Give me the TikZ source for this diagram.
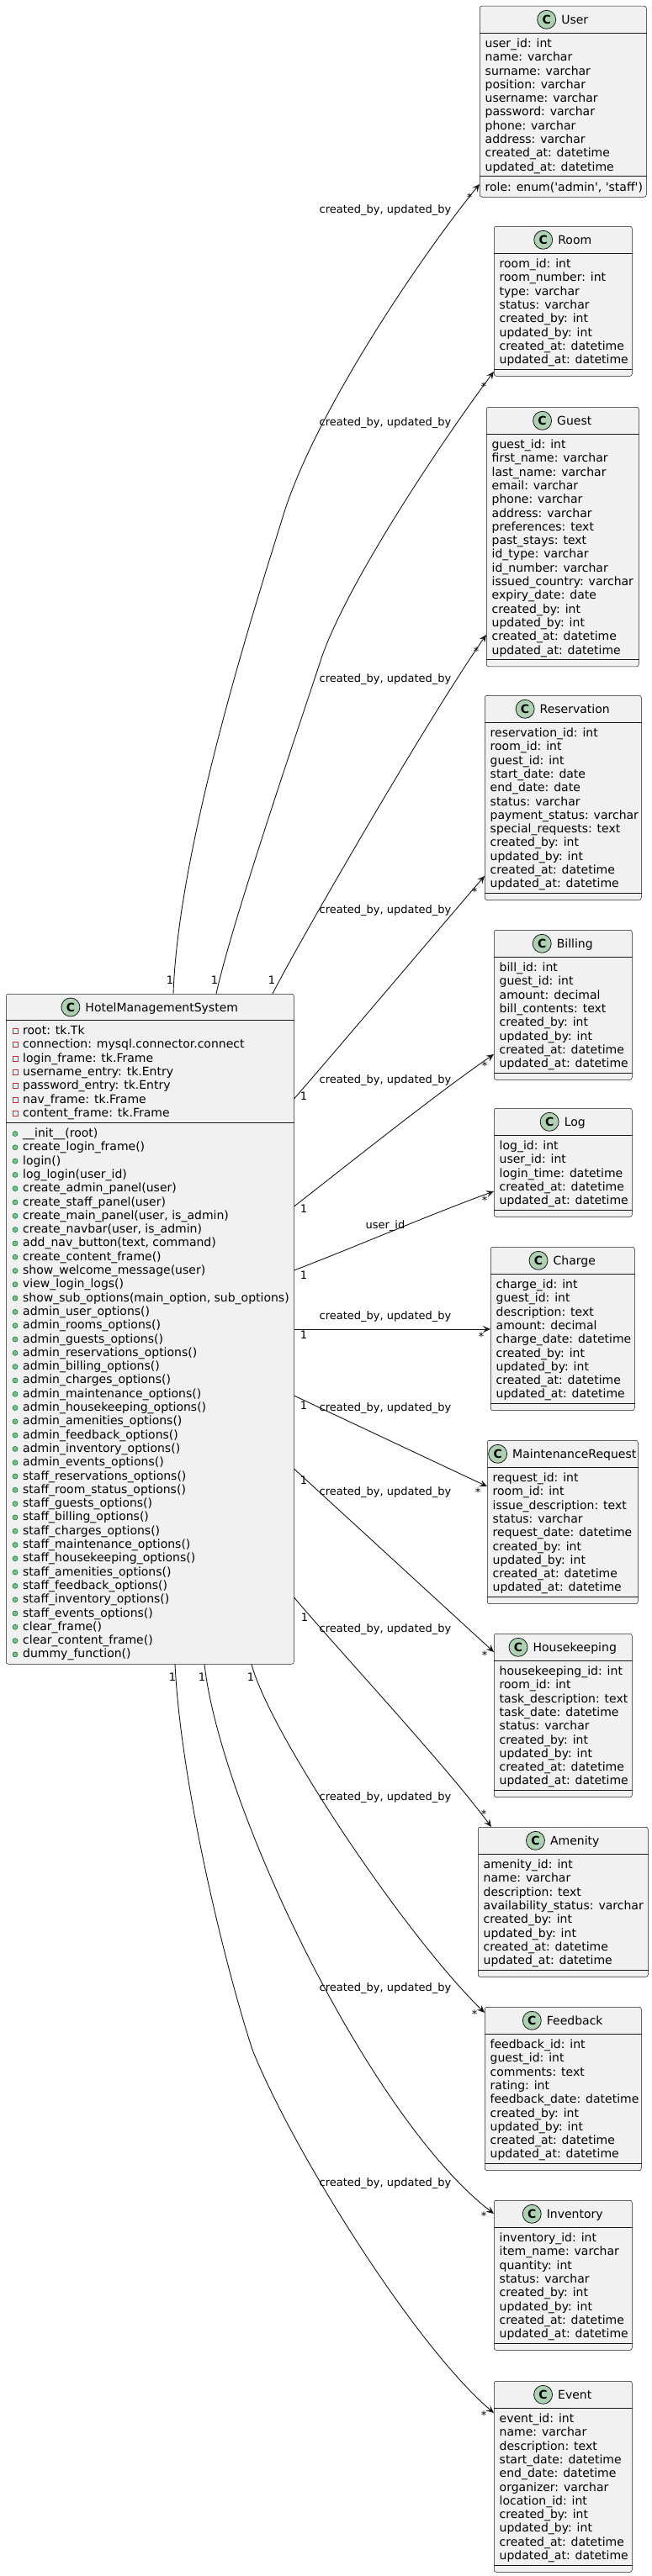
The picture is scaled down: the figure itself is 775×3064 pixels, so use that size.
\documentclass[tikz,border=0pt]{standalone}
\usepackage{fontspec}
\setmainfont{DejaVu Sans}
\usetikzlibrary{positioning,arrows.meta}
\definecolor{boxfill}{HTML}{F1F1F1}
\definecolor{boxline}{HTML}{181818}
\definecolor{badge}{HTML}{ADD1B2}
\definecolor{privred}{HTML}{C82930}
\definecolor{pubgreen}{HTML}{038048}
\definecolor{pubfill}{HTML}{84BE84}
% #1 name, #2 left, #3 top, #4 width, #5 title, #6 rows, #7 extra height, #8 rows
\newcommand{\entity}[8]{%
  \pgfmathsetmacro\attrh{#6*16.3+7.7}
  \pgfmathsetmacro\sepy{32+\attrh}
  \pgfmathsetmacro\boxh{40+\attrh+#7}
  \node[classbox, minimum width=#4pt, minimum height=\boxh pt, anchor=north west] (#1) at (#2,#3) {};
  \node[titletext] (#1-t) at ([xshift=14pt,yshift=-21.3pt]#1.north) {#5};
  \node[cbadge, left=6pt of #1-t] (#1-c) {C};
  \draw[sepline] ([yshift=-32pt]#1.north west) -- ([yshift=-32pt]#1.north east);
  \draw[sepline] ([yshift=-\sepy pt]#1.north west) -- ([yshift=-\sepy pt]#1.north east);
  \foreach \txt [count=\i from 0] in {#8}
    \node[rowtext] (#1-r\i) at ([xshift=6.5pt,yshift=-49.5pt-\i*16.3pt]#1.north west) {\txt};
}
\begin{document}
\begin{tikzpicture}[x=1pt,y=-1pt,
  classbox/.style={rectangle, rounded corners=2.5pt, draw=boxline, line width=.5pt, fill=boxfill, inner sep=0},
  titletext/.style={anchor=base, inner sep=0, text height=11pt, text depth=1pt, font=\fontsize{14pt}{16pt}\selectfont},
  cbadge/.style={circle, draw=boxline, line width=.8pt, fill=badge, minimum size=22pt, inner sep=0, font=\fontsize{14pt}{16pt}\selectfont\bfseries},
  sepline/.style={draw=boxline, line width=.5pt},
  rowtext/.style={anchor=base west, inner sep=0, font=\fontsize{14pt}{16pt}\selectfont},
  privicon/.style={rectangle, draw=privred, line width=.8pt, minimum size=6pt, inner sep=0},
  pubicon/.style={circle, draw=pubgreen, line width=.6pt, fill=pubfill, minimum size=6pt, inner sep=0},
  assoc/.style={draw=boxline, line width=.9pt, -{Stealth[length=9pt,width=8pt,inset=3.5pt]}},
  mult/.style={inner sep=0, font=\fontsize{13pt}{15pt}\selectfont},
  elabel/.style={inner sep=0, font=\fontsize{13pt}{15pt}\selectfont}]
  \path[fill=white, use as bounding box] (0,0) rectangle (775,3064);

  \node[classbox, minimum width=342pt, minimum height=797pt, anchor=north west] (hms) at (7,1182) {};
  \node[titletext] (hms-t) at ([xshift=14pt,yshift=-21pt]hms.north) {HotelManagementSystem};
  \node[cbadge, left=6pt of hms-t] (hms-c) {C};
  \draw[sepline] ([yshift=-31pt]hms.north west) -- ([yshift=-31pt]hms.north east);
  \draw[sepline] ([yshift=-153pt]hms.north west) -- ([yshift=-153pt]hms.north east);
  \foreach \txt [count=\i from 0] in {root: tk.Tk, connection: mysql.connector.connect,
      login\_frame: tk.Frame, username\_entry: tk.Entry, password\_entry: tk.Entry,
      nav\_frame: tk.Frame, content\_frame: tk.Frame} {
    \node[privicon] (hms-ai\i) at ([xshift=11pt,yshift=-44.5pt-\i*16.3pt]hms.north west) {};
    \node[rowtext] (hms-a\i) at ([xshift=20pt,yshift=-48.5pt-\i*16.3pt]hms.north west) {\txt};
  }
  \foreach \txt [count=\i from 0] in {\_\_init\_\_(root), create\_login\_frame(), login(),
      log\_login(user\_id), create\_admin\_panel(user), create\_staff\_panel(user),
      {create\_main\_panel(user, is\_admin)}, {create\_navbar(user, is\_admin)},
      {add\_nav\_button(text, command)}, create\_content\_frame(), show\_welcome\_message(user),
      view\_login\_logs(), {show\_sub\_options(main\_option, sub\_options)},
      admin\_user\_options(), admin\_rooms\_options(), admin\_guests\_options(),
      admin\_reservations\_options(), admin\_billing\_options(), admin\_charges\_options(),
      admin\_maintenance\_options(), admin\_housekeeping\_options(), admin\_amenities\_options(),
      admin\_feedback\_options(), admin\_inventory\_options(), admin\_events\_options(),
      staff\_reservations\_options(), staff\_room\_status\_options(), staff\_guests\_options(),
      staff\_billing\_options(), staff\_charges\_options(), staff\_maintenance\_options(),
      staff\_housekeeping\_options(), staff\_amenities\_options(), staff\_feedback\_options(),
      staff\_inventory\_options(), staff\_events\_options(), clear\_frame(),
      clear\_content\_frame(), dummy\_function()} {
    \node[pubicon] (hms-mi\i) at ([xshift=11pt,yshift=-166.5pt-\i*16.3pt]hms.north west) {};
    \node[rowtext] (hms-m\i) at ([xshift=20pt,yshift=-170.5pt-\i*16.3pt]hms.north west) {\txt};
  }

  \entity{user}{570}{7}{198}{User}{10}{16.3}{user\_id: int, name: varchar, surname: varchar,
    position: varchar, username: varchar, password: varchar, phone: varchar, address: varchar,
    created\_at: datetime, updated\_at: datetime}
  \node[rowtext] (user-role) at ([xshift=6.5pt,yshift=-220.3pt]user.north west)
    {role: enum(\textquotesingle admin\textquotesingle, \textquotesingle staff\textquotesingle)};
  \entity{room}{587}{269}{164}{Room}{8}{0}{room\_id: int, room\_number: int, type: varchar,
    status: varchar, created\_by: int, updated\_by: int, created\_at: datetime, updated\_at: datetime}
  \entity{guest}{578}{484}{181}{Guest}{16}{0}{guest\_id: int, first\_name: varchar,
    last\_name: varchar, email: varchar, phone: varchar, address: varchar, preferences: text,
    past\_stays: text, id\_type: varchar, id\_number: varchar, issued\_country: varchar,
    expiry\_date: date, created\_by: int, updated\_by: int, created\_at: datetime, updated\_at: datetime}
  \entity{reservation}{576}{827}{186}{Reservation}{12}{0}{reservation\_id: int, room\_id: int,
    guest\_id: int, start\_date: date, end\_date: date, status: varchar, payment\_status: varchar,
    special\_requests: text, created\_by: int, updated\_by: int, created\_at: datetime, updated\_at: datetime}
  \entity{billing}{587}{1106}{164}{Billing}{8}{0}{bill\_id: int, guest\_id: int, amount: decimal,
    bill\_contents: text, created\_by: int, updated\_by: int, created\_at: datetime, updated\_at: datetime}
  \entity{log}{587}{1318}{164}{Log}{5}{0}{log\_id: int, user\_id: int, login\_time: datetime,
    created\_at: datetime, updated\_at: datetime}
  \entity{charge}{583}{1483}{171}{Charge}{9}{0}{charge\_id: int, guest\_id: int, description: text,
    amount: decimal, charge\_date: datetime, created\_by: int, updated\_by: int, created\_at: datetime,
    updated\_at: datetime}
  \entity{mreq}{579}{1713}{179}{MaintenanceRequest}{9}{0}{request\_id: int, room\_id: int,
    issue\_description: text, status: varchar, request\_date: datetime, created\_by: int,
    updated\_by: int, created\_at: datetime, updated\_at: datetime}
  \entity{hkeep}{587}{1943}{164}{Housekeeping}{9}{0}{housekeeping\_id: int, room\_id: int,
    task\_description: text, task\_date: datetime, status: varchar, created\_by: int, updated\_by: int,
    created\_at: datetime, updated\_at: datetime}
  \entity{amenity}{568}{2173}{202}{Amenity}{8}{0}{amenity\_id: int, name: varchar, description: text,
    availability\_status: varchar, created\_by: int, updated\_by: int, created\_at: datetime,
    updated\_at: datetime}
  \entity{feedback}{576}{2387}{186}{Feedback}{9}{0}{feedback\_id: int, guest\_id: int, comments: text,
    rating: int, feedback\_date: datetime, created\_by: int, updated\_by: int, created\_at: datetime,
    updated\_at: datetime}
  \entity{inventory}{587}{2617}{164}{Inventory}{8}{0}{inventory\_id: int, item\_name: varchar,
    quantity: int, status: varchar, created\_by: int, updated\_by: int, created\_at: datetime,
    updated\_at: datetime}
  \entity{event}{587}{2832}{164}{Event}{11}{0}{event\_id: int, name: varchar, description: text,
    start\_date: datetime, end\_date: datetime, organizer: varchar, location\_id: int, created\_by: int,
    updated\_by: int, created\_at: datetime, updated\_at: datetime}

  \draw[assoc] (206,0 |- hms.north) .. controls (212,1000) and (310,700) .. (337,612)
    .. controls (375,490) and (500,305) .. (user.west |- 0,219);
  \draw[assoc] (257,0 |- hms.north) .. controls (275,1100) and (350,880) .. (383,780)
    .. controls (415,690) and (525,525) .. (room.west |- 0,442);
  \draw[assoc] (324,0 |- hms.north) .. controls (350,1130) and (505,860) .. (guest.west |- 0,755);
  \draw[assoc] (hms.east |- 0,1307) .. controls (395,1255) and (530,1095) .. (reservation.west |- 0,1042);
  \draw[assoc] (hms.east |- 0,1435) .. controls (420,1380) and (520,1300) .. (billing.west |- 0,1254);
  \draw[assoc] (hms.east |- 0,1511) .. controls (430,1480) and (510,1445) .. (log.west |- 0,1417);
  \draw[assoc] (hms.east |- 0,1581) -- (charge.west |- 0,1581);
  \draw[assoc] (hms.east |- 0,1660) -- (mreq.west |- 0,1768);
  \draw[assoc] (hms.east |- 0,1747) -- (hkeep.west |- 0,1965);
  \draw[assoc] (hms.east |- 0,1900) .. controls (400,1960) and (530,2100) .. (584,0 |- amenity.north);
  \draw[assoc] (299,0 |- hms.south) .. controls (320,2060) and (480,2300) .. (feedback.west |- 0,2394);
  \draw[assoc] (243,0 |- hms.south) .. controls (262,2150) and (440,2520) .. (inventory.west |- 0,2633);
  \draw[assoc] (208,0 |- hms.south) .. controls (215,2120) and (265,2330) .. (300,2438)
    .. controls (348,2558) and (493,2790) .. (event.west |- 0,2870);

  \foreach \n/\y in {user/250, room/503, guest/808, reservation/1083, billing/1285, charge/1566,
      mreq/1675, hkeep/1775, amenity/1938, feedback/2138, inventory/2365, event/2597}
    \node[elabel] (lab-\n) at (458,\y) {created\_by, updated\_by};
  \node[elabel] (lab-log) at (458,1458) {user\_id};

  \foreach \n/\x/\y in {user/202/1166, room/255/1166, guest/323/1166, reservation/361/1304,
      billing/361/1438, log/361/1517, charge/361/1588, mreq/361/1672, hkeep/361/1761,
      amenity/362/1924, feedback/298/1995, inventory/240/1995, event/205/1995}
    \node[mult] (one-\n) at (\x,\y) {1};
  \foreach \n/\x/\y in {user/558/235, room/575/460, guest/566/775, reservation/564/1061,
      billing/576/1268, log/576/1428, charge/572/1590, mreq/568/1775, hkeep/576/1969,
      amenity/575/2158, feedback/564/2396, inventory/575/2636, event/575/2873}
    \node[mult] (many-\n) at (\x,\y) {*};
\end{tikzpicture}
\end{document}
